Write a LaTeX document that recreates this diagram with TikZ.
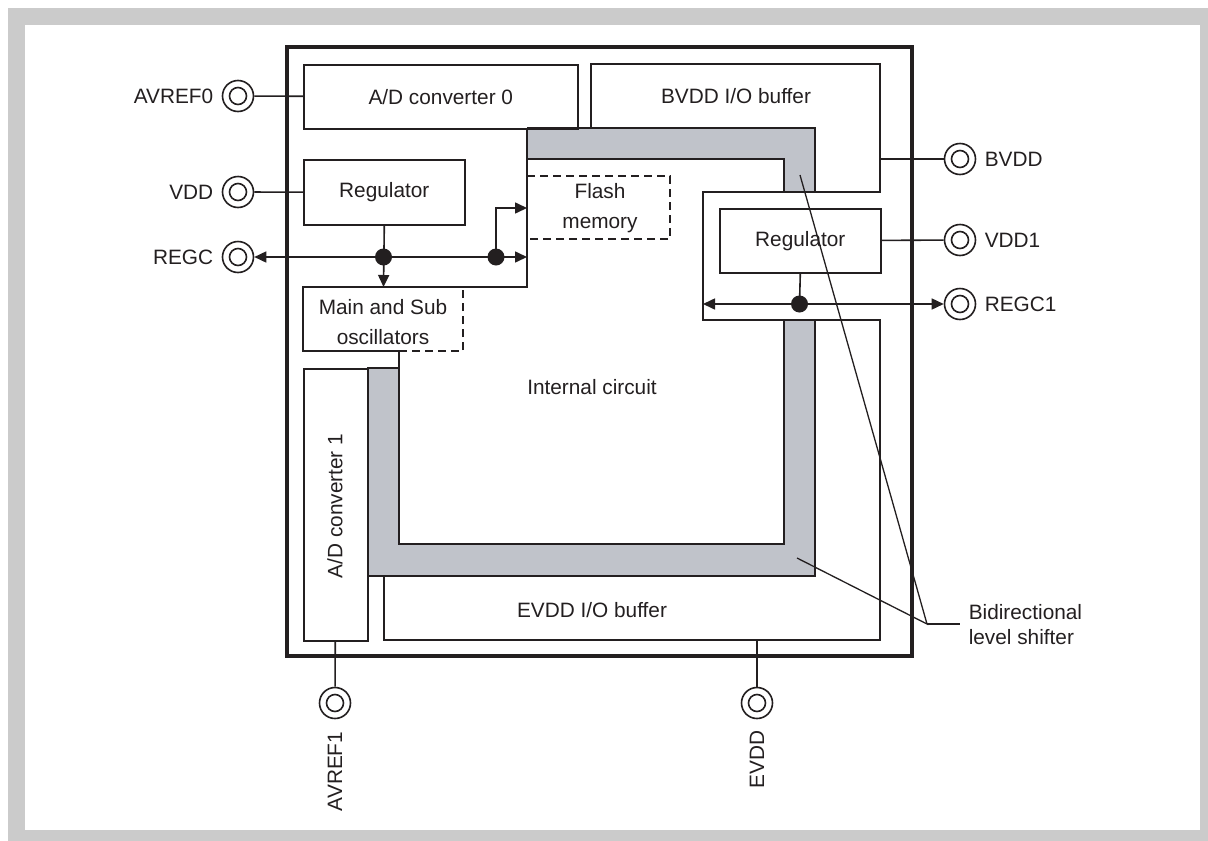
\documentclass[tikz,border=0pt]{standalone}
\usepackage{fontspec}
\setmainfont{Liberation Sans}
\usetikzlibrary{arrows.meta}
\definecolor{framegray}{HTML}{CBCBCB}
\definecolor{bandgray}{HTML}{C0C3CA}
\definecolor{ink}{HTML}{231F20}
\begin{document}
\begin{tikzpicture}[x=1pt,y=-1pt,line width=1.6pt,color=ink,
  txt/.style={font=\fontsize{20.8}{30}\selectfont,inner sep=0pt,align=center},
  blk/.style={draw,inner sep=0pt,anchor=north west,font=\fontsize{20.8}{30}\selectfont},
  pinc/.style={draw,circle,minimum size=31pt,inner sep=0pt,fill=white},
  dotn/.style={circle,fill=ink,minimum size=17pt,inner sep=0pt},
  arr/.style={-{Triangle[length=12pt,width=11pt]}},
  arrb/.style={{Triangle[length=12pt,width=11pt]}-{Triangle[length=12pt,width=11pt]}},
  dsh/.style={dash pattern=on 8pt off 5pt},
  thick border/.style={line width=3.4pt}]
% background frame
\fill[white] (0,0) rectangle (1208,841);
\useasboundingbox (0,0) rectangle (1208,841);
\fill[framegray] (8,8) rectangle (1208,841);
\fill[white] (25,25) rectangle (1200,830);

% gray level shifter band
\fill[bandgray] (527,128) -- (815,128) -- (815,576) -- (367,576) -- (367,368)
  -- (399,368) -- (399,544) -- (784,544) -- (784,159) -- (527,159) -- cycle;
\fill[white] (703,192) rectangle (880,320);

% band outlines
\draw (527,159) -- (784,159) -- (784,192);
\draw (784,320) -- (784,544) -- (399,544) -- (399,351);
\draw (527,128) -- (815,128) -- (815,192);
\draw (815,320) -- (815,576) -- (367,576);
\draw (367,368) -- (399,368);

% I/O buffer outline (BVDD, regulator slot, EVDD)
\draw (591,128) -- (591,64) -- (880,64) -- (880,192) -- (703,192) -- (703,320)
  -- (880,320) -- (880,640) -- (384,640) -- (384,576);

% internal circuit boundary and oscillator box
\draw (527,128) -- (527,287) -- (303,287) -- (303,351) -- (399,351);
\draw[dsh] (399,351) -- (463,351) -- (463,287);
\draw[dsh] (527,176) -- (670,176) -- (670,239) -- (527,239);

% blocks
\node[blk,minimum width=274pt,minimum height=64pt] (adc0) at (303,64) {A/D converter 0};
\node[blk,minimum width=161pt,minimum height=65pt] (regL) at (303,159) {Regulator};
\node[blk,minimum width=161pt,minimum height=64pt] (regR) at (719,208) {Regulator};
\node[blk,minimum width=64pt,minimum height=272pt] (adc1) at (303,368) {};
\node[txt,rotate=90] (adc1t) at (335,506) {A/D converter 1};
\node[txt] (bvddt) at (736,96) {BVDD I/O buffer};
\node[txt] (flasht) at (600,208) {Flash\\memory};
\node[txt] (osct) at (383,322) {Main and Sub\\oscillators};
\node[txt] (intt) at (592,387) {Internal circuit};
\node[txt] (evddt) at (592,610) {EVDD I/O buffer};

% chip border
\draw[thick border] (287,47) rectangle (912,656);

% pins
\node[pinc] (pAVREF0) at (238,96) {};
\node[pinc] (pVDD) at (238,192) {};
\node[pinc] (pREGC) at (238,257) {};
\node[pinc] (pBVDD) at (960,159) {};
\node[pinc] (pVDD1) at (960,240) {};
\node[pinc] (pREGC1) at (960,304) {};
\node[pinc] (pAVREF1) at (335,703) {};
\node[pinc] (pEVDD) at (757,703) {};
\foreach \p in {pAVREF0,pVDD,pREGC,pBVDD,pVDD1,pREGC1,pAVREF1,pEVDD}
  \draw (\p.center) circle[radius=8.5pt];

% pin labels
\node[txt,anchor=east] (lAVREF0) at (214,96) {AVREF0};
\node[txt,anchor=east] (lVDD) at (214,192) {VDD};
\node[txt,anchor=east] (lREGC) at (214,257) {REGC};
\node[txt,anchor=west] (lBVDD) at (984,159) {BVDD};
\node[txt,anchor=west] (lVDD1) at (984,240) {VDD1};
\node[txt,anchor=west] (lREGC1) at (984,304) {REGC1};
\node[txt,rotate=90,anchor=east] (lAVREF1) at (335,731) {AVREF1};
\node[txt,rotate=90,anchor=east] (lEVDD) at (757,730) {EVDD};

% connections
\coordinate (bvddEdge) at (880,159);
\coordinate (evddEdge) at (757,640);
\coordinate (flashIn) at (527,257);
\coordinate (flashUp) at (527,208);
\coordinate (oscTop) at (383.5,287);
\coordinate (regc1In) at (703,304);
\draw (pAVREF0) -- (adc0);
\draw (pVDD) -- (regL);
\draw (pBVDD) -- (bvddEdge);
\draw (pVDD1) -- (regR);
\draw (adc1) -- (pAVREF1);
\draw (evddEdge) -- (pEVDD);

\node[dotn] (d1) at (383.5,257) {};
\node[dotn] (d2) at (496,257) {};
\node[dotn] (d3) at (799.5,304) {};
\draw[arrb] (pREGC) -- (flashIn);
\draw[arr] (regL.south) -- (oscTop);
\draw[arr] (d2.center) |- (flashUp);
\draw (regR.south) -- (d3.center);
\draw[arrb] (regc1In) -- (pREGC1);

% level shifter callout
\coordinate (lsA) at (800,175);
\coordinate (lsB) at (797,558);
\coordinate (lsK) at (927,624);
\coordinate (lsC) at (960,624);
\draw[line width=1.3pt] (lsA) -- (lsK) -- (lsB);
\draw[line width=1.3pt] (lsK) -- (lsC);
\node[txt,anchor=west,align=left,font=\fontsize{20.8}{25}\selectfont] (lst) at (968,625) {Bidirectional\\level shifter};
\end{tikzpicture}
\end{document}
